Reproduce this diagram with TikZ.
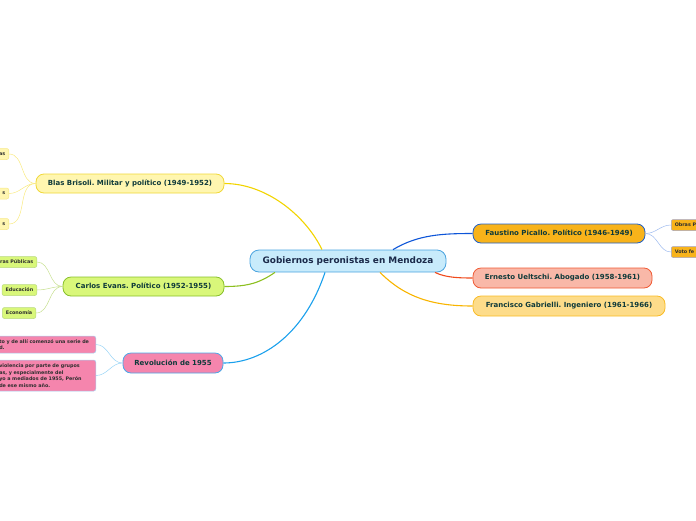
\documentclass[tikz,border=0pt]{standalone}
\usepackage{fontspec}
\setmainfont{DejaVu Sans}
\usetikzlibrary{positioning}
\definecolor{txtclr}{HTML}{0F3A3A}
\definecolor{rootclr}{HTML}{1B2A4A}
\definecolor{leaftxt}{HTML}{2E2E2E}
\definecolor{rootfill}{HTML}{C8EBFB}
\definecolor{rootline}{HTML}{4AA3DF}
\definecolor{blasfill}{HTML}{FFF6B0}
\definecolor{blasline}{HTML}{F0D838}
\definecolor{blasedge}{HTML}{F2D400}
\definecolor{evansfill}{HTML}{D9F77A}
\definecolor{evansline}{HTML}{88C02A}
\definecolor{evansedge}{HTML}{8CBF1F}
\definecolor{revofill}{HTML}{F585AD}
\definecolor{revoline}{HTML}{4AA8E8}
\definecolor{revoedge}{HTML}{1AA0EC}
\definecolor{picfill}{HTML}{F8B31A}
\definecolor{picline}{HTML}{1F5FC8}
\definecolor{picedge}{HTML}{0D55D8}
\definecolor{uelfill}{HTML}{F9B8A8}
\definecolor{uelline}{HTML}{F05A34}
\definecolor{ueledge}{HTML}{F04A1C}
\definecolor{gabfill}{HTML}{FDDC8A}
\definecolor{gabline}{HTML}{F9BB25}
\definecolor{gabedge}{HTML}{F8B400}

\begin{document}
\begin{tikzpicture}[x=1pt,y=-1pt,
    topic/.style={draw, rounded corners=8pt, line width=0.8pt, text=txtclr,
          font=\frenchspacing\bfseries\fontsize{7}{8}\selectfont, minimum height=19pt, inner sep=2pt},
    leaf/.style={draw, rounded corners=2pt, line width=0.5pt, text=leaftxt,
          font=\frenchspacing\bfseries\fontsize{4.85}{6.6}\selectfont, minimum height=11pt, inner xsep=3.5pt, inner ysep=2pt},
    branch/.style={line width=1.1pt},
    twig/.style={line width=0.5pt}]
  \useasboundingbox (0,0) rectangle (696,520);
  \clip (0,0) rectangle (696,520);

  % central topic
  \node[topic, draw=rootline, fill=rootfill, text=rootclr, rounded corners=9pt,
        font=\bfseries\fontsize{8.9}{10}\selectfont, minimum width=196pt, minimum height=22pt]
        (root) at (348,261) {Gobiernos peronistas en Mendoza};

  % left side
  \node[topic, draw=blasline, fill=blasfill, minimum width=188pt] (blas) at (130,183.5)
        {Blas Brisoli. Militar y político (1949-1952)};
  \node[topic, draw=evansline, fill=evansfill, minimum width=161pt] (evans) at (143.5,286.5)
        {Carlos Evans. Político (1952-1955)};
  \node[topic, draw=revoline, fill=revofill, minimum width=100pt, minimum height=20pt] (revo) at (173,363)
        {Revolución de 1955};

  % right side
  \node[topic, draw=picline, fill=picfill, minimum width=172pt] (picallo) at (559,233.5)
        {Faustino Picallo. Político (1946-1949)};
  \node[topic, draw=uelline, fill=uelfill, minimum width=179pt, minimum height=20pt] (ueltschi) at (562.5,278)
        {Ernesto Ueltschi. Abogado (1958-1961)};
  \node[topic, draw=gabline, fill=gabfill, minimum width=192pt, minimum height=20pt] (gabrielli) at (569,306)
        {Francisco Gabrielli. Ingeniero (1961-1966)};

  % leaves of Brisoli
  \node[leaf, draw=blasline!60, fill=blasfill, anchor=east, text width=30pt, align=right] (bl1) at (9,154) {as};
  \node[leaf, draw=blasline!60, fill=blasfill, anchor=east, text width=30pt, align=right] (bl2) at (9,193.5) {s};
  \node[leaf, draw=blasline!60, fill=blasfill, anchor=east, text width=30pt, align=right] (bl3) at (9,224) {s};

  % leaves of Evans
  \node[leaf, draw=evansline!60, fill=evansfill, anchor=east] (ev1) at (37,262) {Obras Públicas};
  \node[leaf, draw=evansline!60, fill=evansfill, anchor=east] (ev2) at (37,290) {Educación};
  \node[leaf, draw=evansline!60, fill=evansfill, anchor=east] (ev3) at (36,313) {Economía};

  % leaves of the revolution
  \node[leaf, draw=revoline!50, fill=revofill, anchor=east, text width=93pt, align=left,
        minimum height=17pt] (rv1) at (96,344.5)
        {to y de allí comenzó una serie de\\d.};
  \node[leaf, draw=revoline!50, fill=revofill, anchor=east, text width=93pt, align=left,
        minimum height=31pt] (rv2) at (96,375.5)
        {violencia por parte de grupos\\as, y especialmente del\\yo a mediados de 1955, Perón\\de ese mismo año.};

  % leaves of Picallo
  \node[leaf, draw=blue!20!gray!60, fill=picfill, anchor=west, text width=40pt, align=left] (pc1) at (671,225) {Obras P};
  \node[leaf, draw=blue!20!gray!60, fill=picfill, anchor=west, text width=40pt, align=left] (pc2) at (671,252) {Voto fe};

  % branches
  \draw[branch, blasedge] ([xshift=-26pt]root.north) .. controls +(-17,-35) and +(41,0) .. (blas.east);
  \draw[branch, evansedge] ([xshift=-73pt]root.south) .. controls +(-15,10) and +(25,0) .. (evans.east);
  \draw[branch, revoedge] ([xshift=-23pt]root.south) .. controls +(-20,60) and +(40,0) .. (revo.east);
  \draw[branch, picedge] ([xshift=45pt]root.north) .. controls +(25,-15) and +(-30,0) .. (picallo.west);
  \draw[branch, ueledge] ([xshift=87pt]root.south) .. controls +(10,5) and +(-15,0) .. (ueltschi.west);
  \draw[branch, gabedge] ([xshift=32pt]root.south) .. controls +(25,25) and +(-40,0) .. (gabrielli.west);

  % twigs
  \foreach \l in {bl1,bl2,bl3}
    \draw[twig, blasedge!50] (blas.west) to[out=180,in=0] (\l.east);
  \foreach \l in {ev1,ev2,ev3}
    \draw[twig, evansedge!50] (evans.west) to[out=180,in=0] (\l.east);
  \foreach \l in {rv1,rv2}
    \draw[twig, revoedge!45] (revo.west) to[out=180,in=0] (\l.east);
  \foreach \l in {pc1,pc2}
    \draw[twig, picedge!40] (picallo.east) to[out=0,in=180] (\l.west);
\end{tikzpicture}
\end{document}
